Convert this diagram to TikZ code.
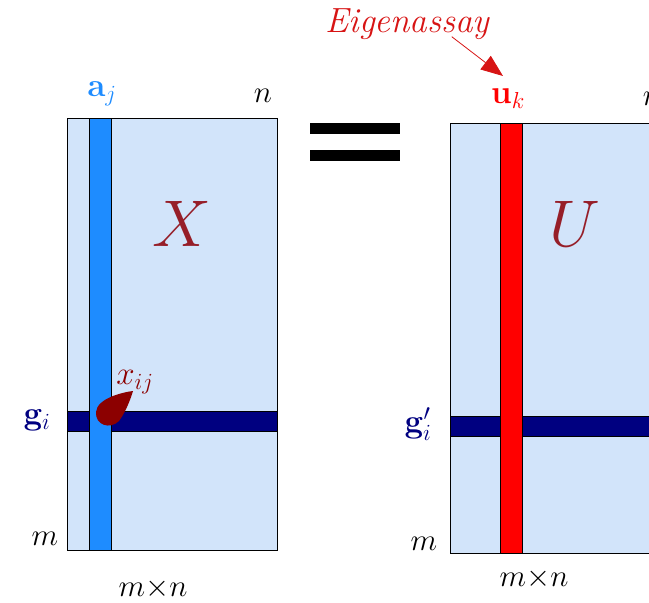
\RequirePackage{fix-cm}
\documentclass[tikz,border=0pt]{standalone}
\usetikzlibrary{arrows.meta}
\definecolor{fondoMat}{RGB}{210,228,250}
\definecolor{azulCol}{RGB}{30,140,255}
\definecolor{azulFila}{RGB}{0,0,128}
\definecolor{rojoMancha}{RGB}{140,0,0}
\definecolor{rojoLetra}{RGB}{150,30,40}
\definecolor{rojoTexto}{RGB}{215,20,20}
\tikzset{
matriz/.style={draw=black,fill=fondoMat,line width=1pt,inner sep=0pt,anchor=north west},
franja/.style={draw=black,line width=0.8pt},
etiqueta/.style={inner sep=1pt,font=\fontsize{33}{35}\selectfont},
dimension/.style={inner sep=1pt,font=\fontsize{31}{33}\selectfont},
letra/.style={text=rojoLetra,inner sep=0pt,font=\fontsize{66}{68}\selectfont},
igual/.style={fill=black}
}

\begin{document}
\begin{tikzpicture}[x=1pt,y=-1pt]
    \useasboundingbox (0,0) rectangle (649,603);
    \clip (0,0) rectangle (649,603);

    % matriz X
    \node[matriz,minimum width=210pt,minimum height=432pt] (X) at (67,118) {};
    \draw[franja,fill=azulFila] (67,411) rectangle (277,431);
    \draw[franja,fill=azulCol] (89,118) rectangle (111,550);
    \node[etiqueta,text=azulCol] (aj) at (102,94) {$\mathbf{a}_j$};
    \node[dimension] (nX) at (263,96) {$n$};
    \node[letra] (Xl) at (182,224) {$X$};
    \node[etiqueta,text=azulFila] (gi) at (37,420) {$\mathbf{g}_i$};
    \node[dimension] (mX) at (45,539) {$m$};
    \node[dimension] (mnX) at (153,589) {$m{\times}n$};
    \node[etiqueta,text=rojoMancha] (xij) at (135,382) {$x_{ij}$};
    \fill[rojoMancha] (133,391) .. controls (124,392) and (97,398) .. (96,412)
        .. controls (95,425) and (110,430) .. (119,421)
        .. controls (125,413) and (130,401) .. cycle;

    % signo igual
    \fill[igual] (310,123) rectangle (400,134);
    \fill[igual] (310,150) rectangle (400,161);

    % matriz U
    \node[matriz,minimum width=222pt,minimum height=430pt] (U) at (450,123) {};
    \draw[franja,fill=azulFila] (450,416) rectangle (672,436);
    \draw[franja,fill=red] (500,123) rectangle (522,553);
    \node[etiqueta,text=red] (uk) at (508,99) {$\mathbf{u}_k$};
    \node[dimension] (nU) at (652,99) {$n$};
    \node[letra] (Ul) at (575,224) {$U$};
    \node[etiqueta,text=azulFila] (gip) at (418,424) {$\mathbf{g}_i'$};
    \node[dimension] (mU) at (424,544) {$m$};
    \node[dimension] (mnU) at (534,579) {$m{\times}n$};

    \node[text=rojoTexto,inner sep=1pt,font=\fontsize{35}{37}\selectfont] (eig) at (408,24) {\textit{Eigenassay}};
    \coordinate (eigpunta) at (503,76);
    \draw[rojoTexto,line width=0.8pt,-{Triangle[length=22pt,width=17pt]}] ([xshift=-40pt,yshift=4pt]eig.south east) -- (eigpunta);
\end{tikzpicture}
\end{document}
